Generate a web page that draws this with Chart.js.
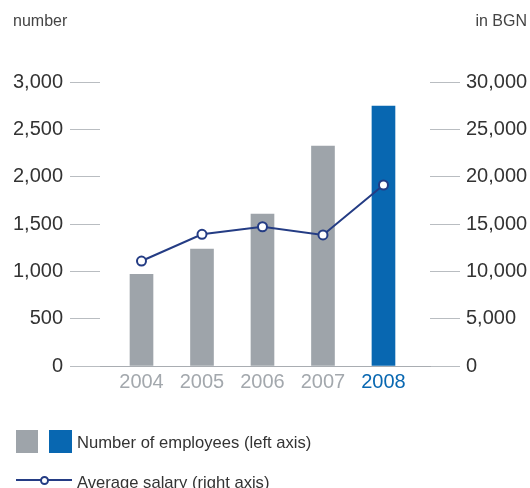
<!DOCTYPE html>
<html>
<head>
<meta charset="utf-8">
<script src="https://cdn.jsdelivr.net/npm/chart.js@4/dist/chart.umd.min.js"></script>
<style>
  html, body { margin: 0; padding: 0; background: #fff; }
  #wrap { position: relative; width: 530px; height: 488px; overflow: hidden; font-family: "Liberation Sans", Arial, sans-serif; color: #333; }
  #c { position: absolute; left: 0; top: 0; }
  .t { position: absolute; white-space: nowrap; }
  .unit { font-size: 16px; line-height: 16px; top: 12.5px; color: #444; }
  .leg { font-size: 16.6px; line-height: 16.6px; left: 77px; }
  .sq { position: absolute; top: 430px; height: 23px; }
</style>
</head>
<body>
<div id="wrap">
  <canvas id="c" width="530" height="488"></canvas>
  <div class="t unit" style="left:13px">number</div>
  <div class="t unit" style="right:3px">in BGN</div>

  <div class="sq" style="left:16px;width:22px;background:#9ea4aa"></div>
  <div class="sq" style="left:49px;width:23px;background:#0867b1"></div>
  <div class="t leg" style="top:435.3px">Number of employees (left axis)</div>

  <div style="position:absolute;left:16px;top:479px;width:56px;height:2px;background:#243c84"></div>
  <div style="position:absolute;left:39.5px;top:475.5px;width:5px;height:5px;border:2px solid #243c84;border-radius:50%;background:#fff"></div>
  <div class="t leg" style="top:474.5px">Average salary (right axis)</div>
</div>
<script>
// Data
const years = [2004, 2005, 2006, 2007, 2008];
const employees = [969, 1236, 1606, 2324, 2746];   // left axis
const salary = [11090, 13910, 14710, 13840, 19120]; // right axis, BGN
const leftTicks = [0, 500, 1000, 1500, 2000, 2500, 3000];
const rightTicks = [0, 5000, 10000, 15000, 20000, 25000, 30000];

const GRAY = '#9ea4aa', BLUE = '#0867b1', NAVY = '#243c84';
const TICK = '#b9bdc1', BASE = '#a9adb2';
const FONT = { family: '"Liberation Sans", Arial, sans-serif', size: 20 };

const fmt = v => Number(v).toLocaleString('en-US');

new Chart(document.getElementById('c'), {
  type: 'bar',
  data: {
    datasets: [
      {
        type: 'line',
        label: 'Average salary (right axis)',
        data: years.map((y, i) => ({ x: y, y: salary[i] })),
        yAxisID: 'y1',
        borderColor: NAVY,
        borderWidth: 2,
        pointRadius: 4.5,
        pointBorderWidth: 2,
        pointBackgroundColor: '#fff',
        pointBorderColor: NAVY,
        tension: 0,
        order: 0
      },
      {
        label: 'Number of employees (left axis)',
        data: years.map((y, i) => ({ x: y, y: employees[i] })),
        yAxisID: 'y',
        backgroundColor: years.map(y => y === 2008 ? BLUE : GRAY),
        barThickness: 23,
        order: 1
      }
    ]
  },
  options: {
    responsive: false,
    animation: false,
    devicePixelRatio: 1,
    layout: { padding: { top: 82, bottom: 88, left: 0, right: 0 } },
    plugins: { legend: { display: false }, tooltip: { enabled: false } },
    scales: {
      x: {
        type: 'linear',
        offset: false,
        min: 2003.314,
        max: 2008.769,
        grid: { display: false, offset: false },
        border: { display: true, color: BASE, width: 1 },
        afterBuildTicks: s => { s.ticks = years.map(v => ({ value: v })); },
        afterFit: s => { s.height = 34; },
        ticks: {
          callback: v => String(v),
          color: ctx => (ctx.tick && ctx.tick.value === 2008) ? BLUE : '#a3a8ad',
          font: FONT,
          padding: -4,
          maxRotation: 0,
          autoSkip: false
        }
      },
      y: {
        position: 'left',
        min: 0, max: 3000,
        afterBuildTicks: s => { s.ticks = leftTicks.map(v => ({ value: v })); },
        afterFit: s => { s.width = 100; },
        grid: { drawOnChartArea: false, drawTicks: true, tickLength: 30, color: TICK, lineWidth: 1 },
        border: { display: false },
        ticks: { callback: fmt, color: '#333', font: FONT, padding: 7 }
      },
      y1: {
        position: 'right',
        min: 0, max: 30000,
        afterBuildTicks: s => { s.ticks = rightTicks.map(v => ({ value: v })); },
        afterFit: s => { s.width = 100; },
        grid: { drawOnChartArea: false, drawTicks: true, tickLength: 30, color: TICK, lineWidth: 1 },
        border: { display: false },
        ticks: { callback: fmt, color: '#333', font: FONT, padding: 6 }
      }
    }
  }
});
</script>
</body>
</html>
